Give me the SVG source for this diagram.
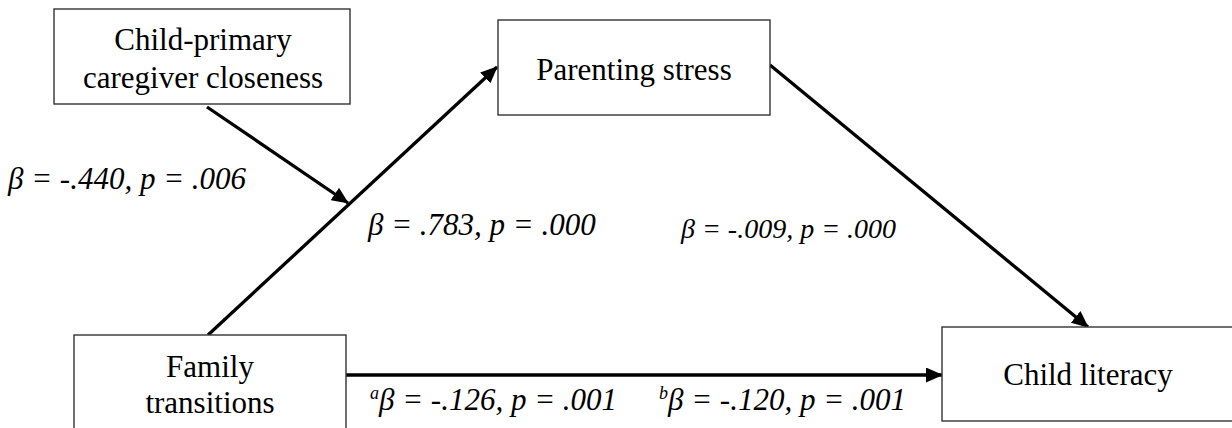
<svg xmlns="http://www.w3.org/2000/svg" width="1232" height="428" viewBox="0 0 1232 428">
<defs>
<style>
.box{fill:#fff;stroke:#333;stroke-width:1.4}
.lbl{font-family:"Liberation Serif","Times New Roman",serif;font-size:31px;fill:#000;text-anchor:middle}
.coef{font-family:"Liberation Serif","Times New Roman",serif;font-size:31px;font-style:italic;fill:#000}
.sup{font-size:18px}
.conn{stroke:#000;stroke-width:3.3;fill:none}
</style>
<marker id="ah" markerUnits="userSpaceOnUse" markerWidth="17" markerHeight="15" refX="16" refY="7.5" orient="auto">
<path d="M0,0 L17,7.5 L0,15 Z" fill="#000"/>
</marker>
</defs>
<rect width="1232" height="428" fill="#fff"/>
<g id="connectors">
<line class="conn" x1="208" y1="335" x2="497" y2="67" marker-end="url(#ah)"/>
<line class="conn" x1="207" y1="107" x2="348" y2="203" marker-end="url(#ah)"/>
<line class="conn" x1="770" y1="65" x2="1088" y2="327" marker-end="url(#ah)"/>
<line class="conn" x1="346" y1="375" x2="942" y2="375" marker-end="url(#ah)"/>
</g>
<g id="closeness">
<rect class="box" x="54" y="9" width="296" height="95"/>
<text class="lbl" x="203" y="50">Child-primary</text>
<text class="lbl" x="203" y="88">caregiver closeness</text>
</g>
<g id="stress">
<rect class="box" x="498" y="20" width="272" height="95"/>
<text class="lbl" x="634" y="80">Parenting stress</text>
</g>
<g id="transitions">
<rect class="box" x="74" y="335" width="272" height="110"/>
<text class="lbl" x="210" y="377">Family</text>
<text class="lbl" x="210" y="413">transitions</text>
</g>
<g id="literacy">
<rect class="box" x="942" y="327" width="300" height="94"/>
<text class="lbl" x="1088" y="385">Child literacy</text>
</g>
<g id="labels">
<text class="coef" x="8" y="189">β = -.440, p = .006</text>
<text class="coef" x="368" y="235">β = .783, p = .000</text>
<text class="coef" x="681" y="238" style="font-size:28px">β = -.009, p = .000</text>
<text class="coef" x="370" y="410"><tspan class="sup" dy="-11">a</tspan><tspan dy="11">β = -.126, p = .001</tspan></text>
<text class="coef" x="659" y="410"><tspan class="sup" dy="-11">b</tspan><tspan dy="11">β = -.120, p = .001</tspan></text>
</g>
</svg>
